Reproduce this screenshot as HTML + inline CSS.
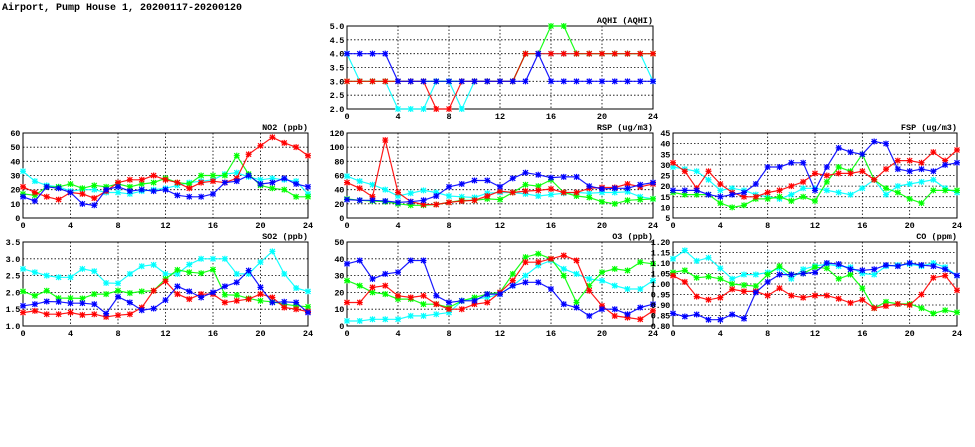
<!DOCTYPE html>
<html><head><meta charset="utf-8"><style>
html,body{margin:0;padding:0;background:#fff;width:975px;height:447px;overflow:hidden}
svg{display:block;font-family:"Liberation Mono","DejaVu Sans Mono",monospace;font-weight:bold}
</style></head><body>
<svg id="chart" width="975" height="447" viewBox="0 0 975 447">
<text x="2" y="10" font-size="10">Airport, Pump House 1, 20200117-20200120</text>
</svg>
<script>
const hours=[0,1,2,3,4,5,6,7,8,9,10,11,12,13,14,15,16,17,18,19,20,21,22,23,24];
const xTicks=[0,4,8,12,16,20,24];
const seriesColors=["#00ffff","#00ff00","#ff0000","#0000ff"];
const seriesNames=["cyan","green","red","blue"];

const aqhiCyan=[4,3,3,3,2,2,2,3,3,2,3,3,3,3,4,4,4,4,4,4,4,4,4,4,3];
const aqhiGreen=[3,3,3,3,3,3,3,3,3,3,3,3,3,3,4,4,5,5,4,4,4,4,4,4,4];
const aqhiRed=[3,3,3,3,3,3,3,2,2,3,3,3,3,3,4,4,4,4,4,4,4,4,4,4,4];
const aqhiBlue=[4,4,4,4,3,3,3,3,3,3,3,3,3,3,3,4,3,3,3,3,3,3,3,3,3];
const aqhiTicks=[2.0,2.5,3.0,3.5,4.0,4.5,5.0];

const no2Cyan=[33,26,23,22,19,20,20,18,18,17,19,20,21,23,25,26,27,31,32,29,27,28,27,26,17];
const no2Green=[17,16,22,22,24,21,23,22,24,22,24,25,28,25,24,30,30,30,44,31,23,21,20,15,15];
const no2Red=[22,18,15,13,18,17,14,19,25,27,27,30,27,25,21,25,26,25,28,45,51,57,53,50,44];
const no2Blue=[15,12,22,21,18,10,9,20,22,19,20,19,20,16,15,15,17,25,26,30,24,25,28,24,22];
const no2Ticks=[0,10,20,30,40,50,60];

const rspCyan=[59,52,47,40,31,35,39,36,31,30,29,35,36,36,34,31,33,35,36,35,36,36,37,30,27];
const rspGreen=[27,25,24,23,20,18,18,19,22,25,25,27,26,36,47,45,54,36,31,29,23,20,25,26,27];
const rspRed=[50,42,30,110,36,23,19,19,22,24,25,31,38,36,38,39,41,36,36,42,43,43,48,44,48];
const rspBlue=[26,25,25,24,22,23,25,31,44,48,53,53,44,56,64,61,57,58,58,45,41,42,42,47,50];
const rspTicks=[0,20,40,60,80,100,120];

const fspCyan=[29,28,27,23,18,19,18,16,15,14,16,19,19,18,17,16,19,23,16,20,21,22,23,19,17];
const fspGreen=[17,16,16,16,12,10,11,14,14,15,13,15,13,22,29,27,35,23,19,17,14,12,18,18,18];
const fspRed=[31,27,19,27,21,17,15,15,17,18,20,22,26,25,26,26,27,23,28,32,32,31,36,32,37];
const fspBlue=[18,18,18,16,15,16,17,21,29,29,31,31,18,29,38,36,35,41,40,28,27,28,27,30,31];
const fspTicks=[5,10,15,20,25,30,35,40,45];

const so2Cyan=[2.7,2.6,2.5,2.45,2.45,2.7,2.63,2.28,2.27,2.55,2.78,2.82,2.55,2.55,2.83,3.0,3.0,3.0,2.55,2.55,2.9,3.22,2.55,2.13,2.03];
const so2Green=[2.03,1.9,2.05,1.83,1.83,1.82,1.95,1.95,2.05,1.98,2.03,2.05,2.4,2.67,2.6,2.57,2.68,1.93,1.92,1.82,1.75,1.72,1.65,1.6,1.57];
const so2Red=[1.4,1.45,1.35,1.35,1.4,1.33,1.35,1.27,1.32,1.35,1.55,2.05,2.33,1.95,1.8,1.95,1.95,1.7,1.75,1.8,1.95,1.85,1.55,1.5,1.43];
const so2Blue=[1.6,1.65,1.73,1.72,1.68,1.68,1.65,1.37,1.87,1.7,1.47,1.52,1.77,2.18,2.03,1.85,2.0,2.18,2.3,2.65,2.15,1.7,1.72,1.7,1.4];
const so2Ticks=[1.0,1.5,2.0,2.5,3.0,3.5];

const o3Cyan=[3,3,4,4,4,6,6,7,8,15,16,17,19,24,30,36,39,34,31,28,27,24,22,22,27];
const o3Green=[27,24,20,19,16,16,13,13,11,15,17,19,20,31,41,43,40,30,14,24,32,34,33,38,37];
const o3Red=[14,14,23,24,18,17,18,13,10,10,13,14,20,27,38,38,40,42,39,21,12,6,5,4,9];
const o3Blue=[37,39,28,31,32,39,39,18,14,15,15,19,19,24,26,26,22,13,11,6,10,10,7,11,13];
const o3Ticks=[0,10,20,30,40,50];

const coCyan=[1.12,1.16,1.11,1.125,1.075,1.025,1.045,1.045,1.055,1.075,1.025,1.07,1.085,1.095,1.085,1.08,1.05,1.045,1.085,1.09,1.095,1.085,1.1,1.08,1.04];
const coGreen=[1.055,1.065,1.03,1.035,1.025,1.0,0.995,0.99,1.045,1.085,1.045,1.05,1.08,1.075,1.025,1.045,0.98,0.885,0.915,0.905,0.905,0.885,0.86,0.875,0.865];
const coRed=[1.04,1.01,0.94,0.925,0.935,0.975,0.965,0.965,0.945,0.98,0.945,0.935,0.945,0.945,0.93,0.91,0.925,0.885,0.895,0.905,0.9,0.95,1.03,1.04,0.97];
const coBlue=[0.86,0.845,0.855,0.83,0.83,0.855,0.835,0.96,1.01,1.045,1.045,1.05,1.055,1.10,1.095,1.07,1.065,1.07,1.09,1.085,1.10,1.09,1.085,1.07,1.04];
const coTicks=[0.80,0.85,0.90,0.95,1.00,1.05,1.10,1.15,1.20];

const NS="http://www.w3.org/2000/svg";
const svg=document.getElementById("chart");
function mk(tag,attrs,parent){const e=document.createElementNS(NS,tag);for(const k in attrs)e.setAttribute(k,attrs[k]);(parent||svg).appendChild(e);return e;}

function panel(id,title,box,ticks,dec,series){
  const g=mk("g",{});
  
  
  const [L,T,R,B]=box;
  const ymin=ticks[0],ymax=ticks[ticks.length-1];
  const xs=h=>L+(h-0)/(24-0)*(R-L);
  const ys=v=>B-(v-ymin)/(ymax-ymin)*(B-T);
  ticks.forEach(t=>{
    const y=ys(t);
    if(t!==ymin&&t!==ymax){const gl=mk("line",{x1:L,x2:R,y1:y,y2:y,stroke:"#000","stroke-width":0.8,"stroke-dasharray":"1.5,2"},g);
      
      }
    const tl=mk("text",{x:L-3,y:y+3,"font-size":8.5,"letter-spacing":"-0.3","text-anchor":"end"},g);
    tl.textContent=t.toFixed(dec);
    
    
  });
  xTicks.forEach(t=>{
    const x=xs(t);
    if(t!==0&&t!==24){const gl=mk("line",{x1:x,x2:x,y1:T,y2:B,stroke:"#000","stroke-width":0.8,"stroke-dasharray":"1.5,2"},g);
      
      }
    const tl=mk("text",{x:x,y:B+10,"font-size":8.5,"text-anchor":"middle"},g);
    tl.textContent=t;
    
    
  });
  const fr=mk("rect",{x:L,y:T,width:R-L,height:B-T,fill:"none",stroke:"#000","stroke-width":1},g);
  
  
  const tt=mk("text",{x:R,y:T-3,"font-size":8.5,"text-anchor":"end"},g);
  tt.textContent=title;
  
  
  series.forEach((vals,si)=>{
    const c=seriesColors[si];
    const pts=vals.map((v,i)=>xs(hours[i]).toFixed(1)+","+ys(v).toFixed(1)).join(" ");
    const pl=mk("polyline",{points:pts,fill:"none",stroke:c,"stroke-width":1.2,"stroke-opacity":0.9},g);
    
    
    vals.forEach((v,i)=>{
      const x=xs(hours[i]),y=ys(v);
      const m=mk("path",{d:`M${x-2.5},${y-2.5}L${x+2.5},${y+2.5}M${x-2.5},${y+2.5}L${x+2.5},${y-2.5}M${x-3},${y}L${x+3},${y}M${x},${y-3}L${x},${y+3}`,stroke:c,"stroke-width":1.2},g);
      
      
    });
  });
}
panel("aqhi","AQHI (AQHI)",[347,26,653,109],aqhiTicks,1,[aqhiCyan,aqhiGreen,aqhiRed,aqhiBlue]);
panel("no2","NO2 (ppb)",[23,133,308,218],no2Ticks,0,[no2Cyan,no2Green,no2Red,no2Blue]);
panel("rsp","RSP (ug/m3)",[347,133,653,218],rspTicks,0,[rspCyan,rspGreen,rspRed,rspBlue]);
panel("fsp","FSP (ug/m3)",[673,133,957,218],fspTicks,0,[fspCyan,fspGreen,fspRed,fspBlue]);
panel("so2","SO2 (ppb)",[23,242,308,326],so2Ticks,1,[so2Cyan,so2Green,so2Red,so2Blue]);
panel("o3","O3 (ppb)",[347,242,653,326],o3Ticks,0,[o3Cyan,o3Green,o3Red,o3Blue]);
panel("co","CO (ppm)",[673,242,957,326],coTicks,2,[coCyan,coGreen,coRed,coBlue]);
</script>
</body></html>
